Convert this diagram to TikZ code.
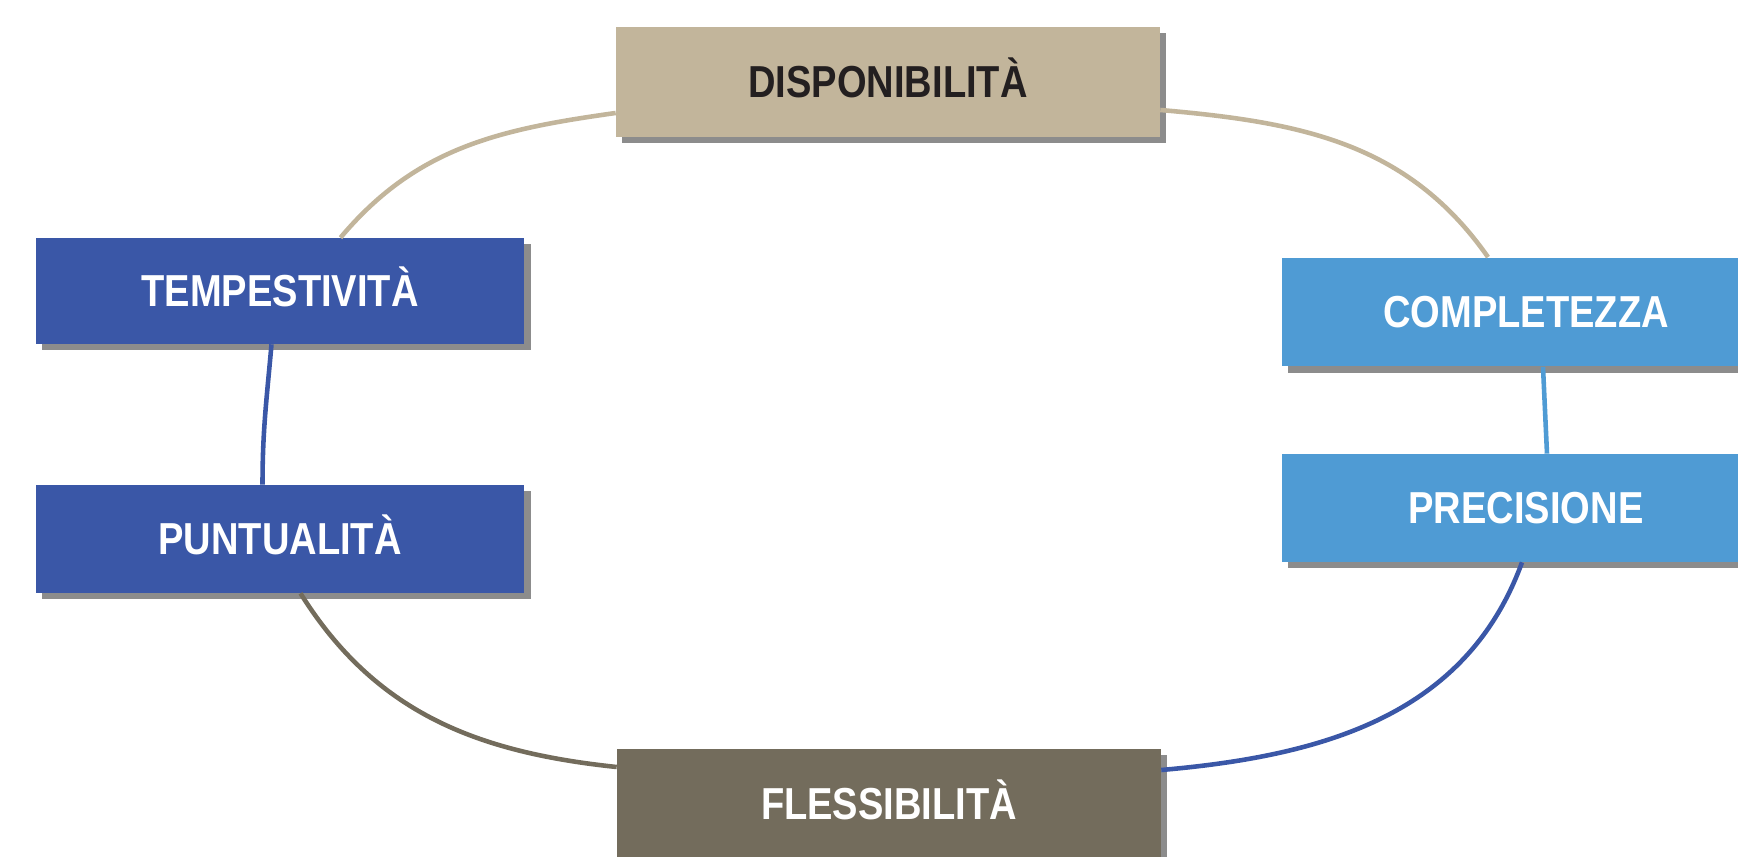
\documentclass[tikz,border=0pt]{standalone}
\usepackage{fontspec}
\setmainfont{Liberation Sans}
\newfontfamily\boxfont[FakeStretch=0.85]{Liberation Sans}
\usepackage{tikz}
\usetikzlibrary{shadows}

\definecolor{sand}{HTML}{C2B59B}
\definecolor{navy}{HTML}{3A57A7}
\definecolor{sky}{HTML}{4F9BD4}
\definecolor{taupe}{HTML}{736C5C}
\definecolor{ink}{HTML}{231F20}

\begin{document}
\begin{tikzpicture}[x=0.02cm, y=-0.02cm,
  every node/.style={font=\boxfont\bfseries\fontsize{25.5}{30}\selectfont},
  quality/.style={rectangle, inner sep=0pt, text height=18.2pt, text depth=0pt,
    minimum width=9.78cm, minimum height=2.14cm,
    drop shadow={shadow xshift=3.5pt, shadow yshift=-3.5pt, fill=black!75, opacity=0.6}},
  link/.style={line width=2.6pt}
]
\useasboundingbox (0,0) rectangle (1738,857);

% Boxes
\node[quality, fill=sand, text=ink, minimum width=10.88cm, minimum height=2.2cm] (disp) at (888,82) {DISPONIBILITÀ};
\node[quality, fill=navy, text=white, minimum height=2.12cm] (tempo) at (280,291) {TEMPESTIVITÀ};
\node[quality, fill=navy, text=white, minimum height=2.16cm] (puntu) at (280,539) {PUNTUALITÀ};
\node[quality, fill=sky, text=white, minimum height=2.18cm] (comple) at (1526,312) {COMPLETEZZA};
\node[quality, fill=sky, text=white, minimum height=2.16cm] (preci) at (1526,508) {PRECISIONE};
\node[quality, fill=taupe, text=white, minimum width=10.88cm, minimum height=2.2cm] (fless) at (889,804) {FLESSIBILITÀ};

% Ring of links
\draw[link, sand] ([yshift=-0.62cm]disp.west) to[out=188, in=50] ([xshift=1.21cm]tempo.north);
\draw[link, sand] ([yshift=-0.56cm]disp.east) to[out=-5, in=125] ([xshift=-0.76cm]comple.north);
\draw[link, navy] ([xshift=-0.17cm]tempo.south) to[out=265, in=90] ([xshift=-0.35cm]puntu.north);
\draw[link, sky] ([xshift=0.34cm]comple.south) -- ([xshift=0.42cm]preci.north);
\draw[link, taupe] ([xshift=0.41cm]puntu.south) to[out=-58, in=174] ([yshift=0.74cm]fless.west);
\draw[link, navy] ([yshift=0.68cm]fless.east) to[out=5, in=-110] ([xshift=-0.08cm]preci.south);

\end{tikzpicture}
\end{document}
